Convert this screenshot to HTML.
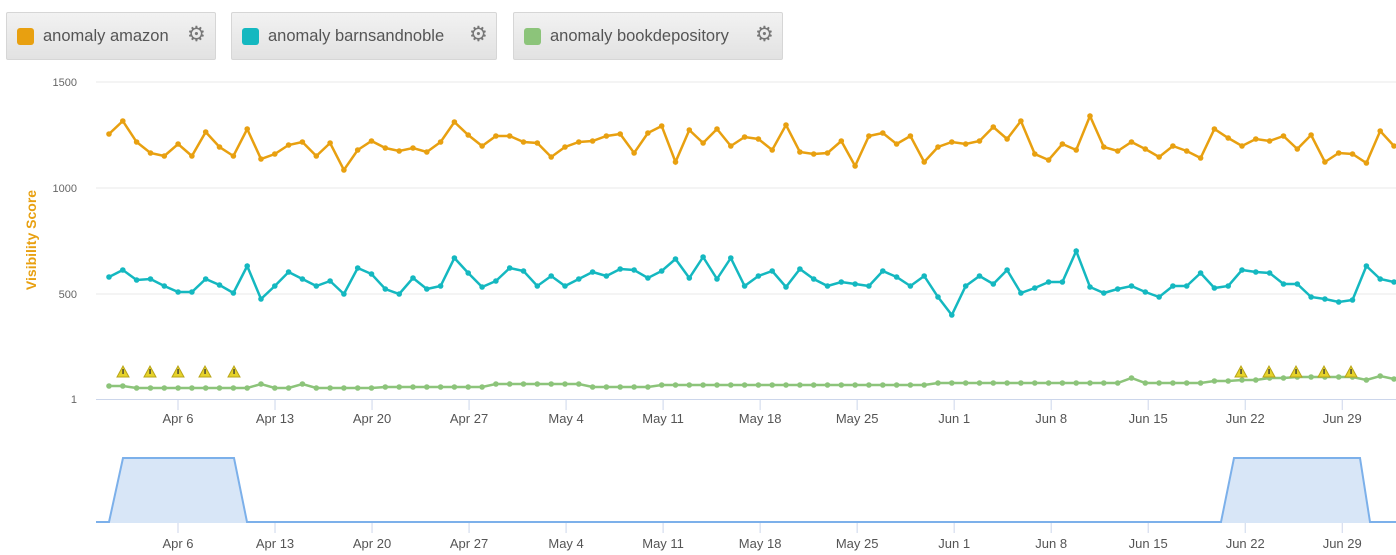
<!DOCTYPE html>
<html><head><meta charset="utf-8"><style>
body{margin:0;width:1396px;height:555px;overflow:hidden;background:#fff;font-family:"Liberation Sans",sans-serif;}
.lg{position:absolute;top:12px;height:48px;border:1px solid #d6d6d6;border-radius:2px;background:linear-gradient(#f2f2f2,#e2e2e2);box-sizing:border-box;font-size:16.5px;color:#555;}
.lg .sw{position:absolute;left:10px;top:15px;width:17px;height:17px;border-radius:3px;}
.lg .t{position:absolute;left:36px;top:14px;white-space:nowrap;}
.lg .g{position:absolute;top:11px;font-size:21px;color:#777;line-height:22px;}
</style></head><body>
<div class="lg" style="left:6px;width:210px"><div class="sw" style="background:#e8a010"></div><div class="t">anomaly amazon</div><div class="g" style="left:180px">⚙</div></div>
<div class="lg" style="left:231px;width:266px"><div class="sw" style="background:#14b8c0"></div><div class="t">anomaly barnsandnoble</div><div class="g" style="left:237px">⚙</div></div>
<div class="lg" style="left:513px;width:270px"><div class="sw" style="background:#8cc47a"></div><div class="t">anomaly bookdepository</div><div class="g" style="left:241px">⚙</div></div>
<svg id="s" width="1396" height="555" style="position:absolute;left:0;top:0"></svg>
<script>
var s=document.getElementById('s'),h='';
function L(x1,y1,x2,y2,c,w){h+='<line x1="'+x1+'" y1="'+y1+'" x2="'+x2+'" y2="'+y2+'" stroke="'+c+'" stroke-width="'+(w||1)+'"/>';}
function T(x,y,t,a,st){h+='<text x="'+x+'" y="'+y+'" text-anchor="'+(a||'middle')+'" '+(st||'font-size="13" fill="#555"')+'>'+t+'</text>';}
[82,188,294].forEach(function(y){L(96,y,1396,y,'#e8e8e8');});
L(96,399.5,1396,399.5,'#ccd6eb');
T(77,86,'1500','end','font-size="11" fill="#666"');T(77,192,'1000','end','font-size="11" fill="#666"');T(77,298,'500','end','font-size="11" fill="#666"');T(77,403,'1','end','font-size="11" fill="#666"');
h+='<text transform="translate(36,240) rotate(-90)" text-anchor="middle" font-size="14" font-weight="bold" fill="#e8a010">Visibility Score</text>';
var labs=['Apr 6','Apr 13','Apr 20','Apr 27','May 4','May 11','May 18','May 25','Jun 1','Jun 8','Jun 15','Jun 22','Jun 29'];
var dx=13.86;
labs.forEach(function(t,i){var x=178+i*7*dx;L(x,400,x,410,'#ccd6eb');T(x,423,t);L(x,523,x,533,'#ccd6eb');T(x,548,t);});
var a=[134,121,142,153,156,144,156,132,147,156,129,159,154,145,142,156,143,170,150,141,148,151,148,152,142,122,135,146,136,136,142,143,134,157,147,142,141,136,134,153,133,126,162,130,143,129,146,137,139,150,125,152,154,153,141,166,136,133,144,136,162,147,142,144,171,141,127,139,121,154,160,144,150,116,147,151,142,149,157,146,151,158,129,138,146,139,141,136,149,135,162,153,154,163,131,146,147];
var b=[277,270,280,279,286,292,292,279,285,293,266,299,286,272,279,286,281,294,268,274,289,294,278,289,286,258,273,287,281,268,271,286,276,286,279,272,276,269,270,278,271,259,278,257,279,258,286,276,271,287,269,279,286,282,284,286,271,277,286,276,297,315,286,276,284,270,293,288,282,282,251,287,293,289,286,292,297,286,286,273,288,286,270,272,273,284,284,297,299,302,300,266,279,282];
var n=94;dx=(1394-109)/(n-1);
function ser(d,c){var p=[];for(var i=0;i<n;i++){var y=d[Math.floor(i*d.length/n)];p.push((109+i*dx).toFixed(1)+','+y);}
h+='<polyline points="'+p.join(' ')+'" fill="none" stroke="'+c+'" stroke-width="2.5"/>';
p.forEach(function(q){var z=q.split(',');h+='<circle cx="'+z[0]+'" cy="'+z[1]+'" r="2.8" fill="'+c+'"/>';});}
var g=[];for(var i=0;i<n;i++){var y=388;if(i<2)y=386;if(i==11||i==14)y=384;if(i>=20)y=387;if(i>=28&&i<35)y=384;if(i>=40)y=385;if(i>=60)y=383;if(i==74)y=378;if(i>=80)y=381;if(i>=82)y=380;if(i>=84)y=378;if(i>=86)y=377;if(i==92)y=376;if(i==91)y=380;if(i==93)y=379;g.push(y);}
ser(a,'#e8a010');ser(b,'#14b8c0');ser(g,'#8cc47a');
[123,150,178,205,234,1241,1269,1296,1324,1351].forEach(function(x){h+='<polygon points="'+x+',366 '+(x-6)+',377 '+(x+6)+',377" fill="#e6d22a" stroke="#b8a418" stroke-width="1"/><rect x="'+(x-0.6)+'" y="369" width="1.3" height="5" fill="#333"/>';});
h+='<path d="M96,522 L109,522 L123,458 L234,458 L247,522 L1221,522 L1234,458 L1360,458 L1370,522 L1396,522 L1396,523 L96,523Z" fill="#d8e6f7"/>';
h+='<polyline points="96,522 109,522 123,458 234,458 247,522 1221,522 1234,458 1360,458 1370,522 1396,522" fill="none" stroke="#7cb0ea" stroke-width="2"/>';
s.innerHTML=h;
</script>
</body></html>
